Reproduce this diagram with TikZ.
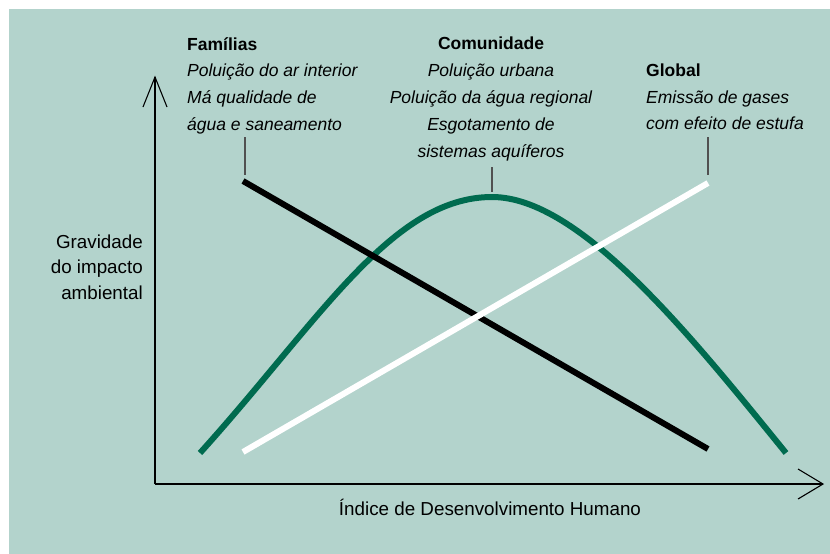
\documentclass[tikz,border=0pt]{standalone}
\usepackage{fontspec}
\setmainfont{Liberation Sans}
\definecolor{bg}{HTML}{B3D3CC}
\definecolor{curvegreen}{HTML}{006B4F}
\definecolor{leader}{HTML}{505050}
\begin{document}
\begin{tikzpicture}[x=1pt,y=-1pt,
  hd/.style={font=\fontsize{17.5}{20}\selectfont\bfseries, inner sep=0pt},
  it/.style={font=\fontsize{17.5}{20}\selectfont\itshape, inner sep=0pt},
  lbl/.style={font=\fontsize{18.8}{22}\selectfont, inner sep=0pt},
  axisline/.style={line width=1.4pt, black},
  arrowarm/.style={line width=1.1pt, black},
  series/.style={line width=6pt},
  leaderline/.style={line width=1.3pt, leader}]
\useasboundingbox (0,0) rectangle (830,554);
\fill[white] (0,0) rectangle (830,554);
\fill[bg] (9,9) rectangle (830,554);

% axes
\coordinate (O) at (155,484);
\coordinate (ytip) at (155,77);
\coordinate (xtip) at (823,484);
\coordinate (ya1) at (143,107);
\coordinate (ya2) at (167,107);
\coordinate (xa1) at (798,469);
\coordinate (xa2) at (798,499);
\draw[axisline] (O) -- (ytip);
\draw[axisline] (O) -- (xtip);
\draw[arrowarm] (ya1) -- (ytip) -- (ya2);
\draw[arrowarm] (xa1) -- (xtip) -- (xa2);

% series
\coordinate (g1) at (200,453);
\coordinate (gp) at (492,197);
\coordinate (g2) at (786,453);
\coordinate (b1) at (243,181);
\coordinate (b2) at (708,449);
\coordinate (w1) at (243,452);
\coordinate (w2) at (708,183);
\draw[series, curvegreen] (g1) .. controls (320,320) and (392,197) .. (gp)
  .. controls (580,197) and (691,336) .. (g2);
\draw[series, black] (b1) -- (b2);
\draw[series, white] (w1) -- (w2);

% leader lines
\coordinate (lf1) at (245,137);
\coordinate (lf2) at (245,175);
\coordinate (lc1) at (492,167);
\coordinate (lc2) at (492,192);
\coordinate (lg1) at (708,137);
\coordinate (lg2) at (708,175);
\draw[leaderline] (lf1) -- (lf2);
\draw[leaderline] (lc1) -- (lc2);
\draw[leaderline] (lg1) -- (lg2);

% Familias block
\node[hd, anchor=base west] (fam) at (187,50) {Famílias};
\node[it, anchor=base west] (fam1) at (187,76.5) {Poluição do ar interior};
\node[it, anchor=base west] (fam2) at (187,103) {Má qualidade de};
\node[it, anchor=base west] (fam3) at (187,130) {água e saneamento};

% Comunidade block
\node[hd, anchor=base] (com) at (491,49.5) {Comunidade};
\node[it, anchor=base] (com1) at (491,76.5) {Poluição urbana};
\node[it, anchor=base] (com2) at (491,103) {Poluição da água regional};
\node[it, anchor=base] (com3) at (491,130) {Esgotamento de};
\node[it, anchor=base] (com4) at (491,157) {sistemas aquíferos};

% Global block
\node[hd, anchor=base west] (glo) at (646,76.5) {Global};
\node[it, anchor=base west] (glo1) at (646,103) {Emissão de gases};
\node[it, anchor=base west] (glo2) at (646,129.5) {com efeito de estufa};

% axis labels
\node[lbl, anchor=base east] (yl1) at (143,248) {Gravidade};
\node[lbl, anchor=base east] (yl2) at (143,273.5) {do impacto};
\node[lbl, anchor=base east] (yl3) at (143,299) {ambiental};
\node[lbl, anchor=base] (xl) at (490,515) {Índice de Desenvolvimento Humano};
\end{tikzpicture}
\end{document}
